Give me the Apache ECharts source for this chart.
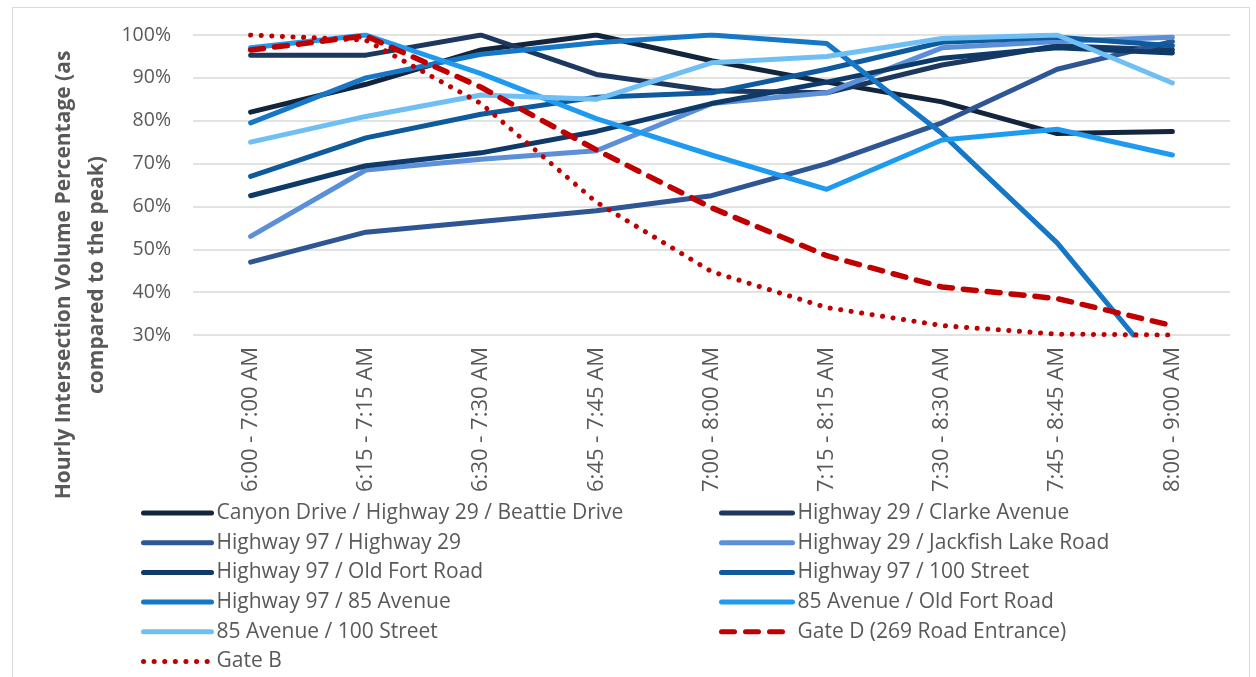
<!DOCTYPE html>
<html>
<head>
<meta charset="utf-8">
<script src="https://cdn.jsdelivr.net/npm/echarts@6/dist/echarts.min.js"></script>
<style>
  html, body { margin: 0; padding: 0; background: #ffffff; }
  #chart { width: 1256px; height: 677px; }
</style>
</head>
<body>
<div id="chart"></div>
<script>
// Time periods (hourly windows, starting every 15 minutes)
const periods = [
  '6:00 - 7:00 AM', '6:15 - 7:15 AM', '6:30 - 7:30 AM', '6:45 - 7:45 AM',
  '7:00 - 8:00 AM', '7:15 - 8:15 AM', '7:30 - 8:30 AM', '7:45 - 8:45 AM',
  '8:00 - 9:00 AM'
];

// Hourly volume as a percentage of each intersection's peak hour
const canyonBeattie   = [82, 88.5, 96.5, 100, 94, 89, 84.4, 77, 77.5];
const hwy29Clarke     = [95.3, 95.3, 100, 90.8, 87, 86.5, 93, 97.5, 96.5];
const hwy97Hwy29      = [47, 54, 56.5, 59, 62.5, 70, 79.5, 92, 98.5];
const hwy29Jackfish   = [53, 68.5, 71, 73, 84, 86.5, 97, 98.5, 99.5];
const hwy97OldFort    = [62.5, 69.5, 72.5, 77.5, 84, 89, 94.6, 97, 95.8];
const hwy97St100      = [67, 76, 81.5, 85.5, 86.5, 92, 98.3, 99.5, 97.5];
const hwy97Ave85      = [79.5, 90, 95.5, 98.2, 100, 98, 77, 51.5, 19];
const ave85OldFort    = [97, 100, 91, 80.5, 72, 64, 75.5, 78, 72];
const ave85St100      = [75, 81, 86, 85, 93.5, 95, 99.2, 100, 88.8];
const gateD           = [96.5, 99.8, 87.8, 73.2, 59.7, 48.5, 41.2, 38.5, 32.2];
const gateB           = [100, 98.8, 84, 61, 44.8, 36.4, 32.2, 30.2, 30];

// Y-axis range (percent)
const yMin = 30, yMax = 100, yStep = 10;

const solidWidth = 5;
const red = '#c00000';

function solid(name, data, color) {
  return {
    name, type: 'line', data, symbol: 'none', smooth: false,
    lineStyle: { color, width: solidWidth, join: 'round', cap: 'round' },
    itemStyle: { color }
  };
}

const series = [
  solid('Canyon Drive / Highway 29 / Beattie Drive', canyonBeattie, '#13243d'),
  solid('Highway 29 / Clarke Avenue', hwy29Clarke, '#1d375f'),
  solid('Highway 97 / Highway 29', hwy97Hwy29, '#2e5594'),
  solid('Highway 29 / Jackfish Lake Road', hwy29Jackfish, '#5b8fd8'),
  solid('Highway 97 / Old Fort Road', hwy97OldFort, '#0d3a68'),
  solid('Highway 97 / 100 Street', hwy97St100, '#0e5a9c'),
  solid('Highway 97 / 85 Avenue', hwy97Ave85, '#1777c7'),
  solid('85 Avenue / Old Fort Road', ave85OldFort, '#1e9bf0'),
  solid('85 Avenue / 100 Street', ave85St100, '#6fbff5'),
  {
    name: 'Gate D (269 Road Entrance)', type: 'line', data: gateD, symbol: 'none',
    lineStyle: { color: red, width: 5.5, type: [13, 11], cap: 'round', join: 'round' },
    itemStyle: { color: red }
  },
  {
    name: 'Gate B', type: 'line', data: gateB, symbol: 'none',
    lineStyle: { color: red, width: 5, type: [0.1, 10.5], cap: 'round', join: 'round' },
    itemStyle: { color: red }
  }
];

const textColor = '#595959';
const fontFamily = '"Open Sans", sans-serif';

const legendCommon = {
  orient: 'vertical',
  top: 502,
  height: 200,
  padding: 0,
  itemWidth: 68,
  itemHeight: 14,
  itemGap: 7.7,
  itemStyle: { opacity: 0 },
  lineStyle: { width: 5 },
  textStyle: { color: textColor, fontSize: 21, fontFamily, lineHeight: 22 },
  selectedMode: false
};

const chart = echarts.init(document.getElementById('chart'), null, { renderer: 'canvas' });
chart.setOption({
  backgroundColor: '#ffffff',
  animation: false,
  grid: { left: 193, right: 26, top: 35, bottom: 342, containLabel: false },
  xAxis: {
    type: 'category',
    data: periods,
    boundaryGap: true,
    axisLine: { show: false },
    axisTick: { show: false },
    axisLabel: { rotate: 90, margin: 12, color: textColor, fontSize: 22, fontFamily }
  },
  yAxis: {
    type: 'value',
    min: yMin, max: yMax, interval: yStep,
    axisLine: { show: false },
    axisTick: { show: false },
    axisLabel: { formatter: '{value}%', margin: 22, color: textColor, fontSize: 19.5, fontFamily },
    splitLine: { lineStyle: { color: '#d9d9d9', width: 1.5 } }
  },
  legend: [
    Object.assign({}, legendCommon, {
      left: 141,
      data: [
        'Canyon Drive / Highway 29 / Beattie Drive',
        'Highway 97 / Highway 29',
        'Highway 97 / Old Fort Road',
        'Highway 97 / 85 Avenue',
        '85 Avenue / 100 Street',
        'Gate B'
      ]
    }),
    Object.assign({}, legendCommon, {
      left: 719,
      itemWidth: 71,
      data: [
        'Highway 29 / Clarke Avenue',
        'Highway 29 / Jackfish Lake Road',
        'Highway 97 / 100 Street',
        '85 Avenue / Old Fort Road',
        'Gate D (269 Road Entrance)'
      ]
    })
  ],
  graphic: [
    {
      type: 'rect', silent: true, z: -1,
      shape: { x: 12.5, y: 7.5, width: 1237, height: 690 },
      style: { fill: 'none', stroke: '#d9d9d9', lineWidth: 1 }
    },
    {
      type: 'text', silent: true,
      x: 81, y: 275, rotation: Math.PI / 2,
      style: {
        text: 'Hourly Intersection Volume Percentage (as\ncompared to the peak)',
        fill: textColor, font: 'bold 21px "Open Sans", sans-serif',
        align: 'center', verticalAlign: 'middle', lineHeight: 33
      }
    }
  ],
  series
});
</script>
</body>
</html>
